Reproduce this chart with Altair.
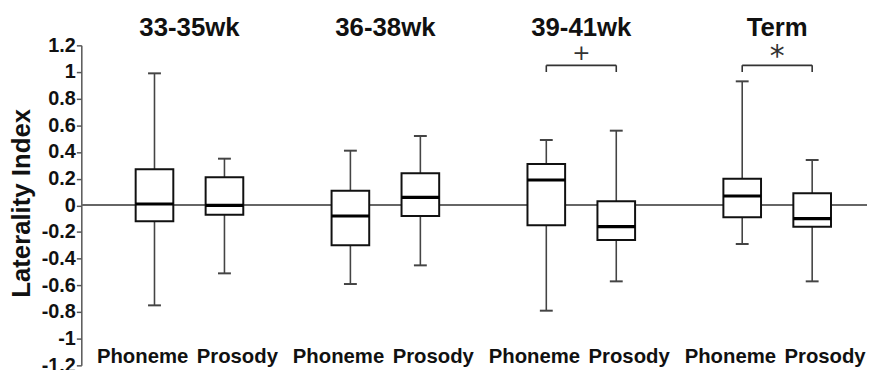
import altair as alt
import pandas as pd

groups = ["33-35wk", "36-38wk", "39-41wk", "Term"]
conditions = ["Phoneme", "Prosody"]
whisker_low = [-0.75, -0.51, -0.59, -0.45, -0.79, -0.57, -0.29, -0.57]
q1 = [-0.12, -0.07, -0.30, -0.08, -0.15, -0.26, -0.09, -0.16]
median = [0.01, 0.00, -0.08, 0.06, 0.19, -0.16, 0.07, -0.10]
q3 = [0.27, 0.21, 0.11, 0.24, 0.31, 0.03, 0.20, 0.09]
whisker_high = [0.99, 0.35, 0.41, 0.52, 0.49, 0.56, 0.93, 0.34]
sig_groups = ["39-41wk", "Term"]
sig_marks = ["+", "*"]
y_ticks = [-1.2, -1.0, -0.8, -0.6, -0.4, -0.2, 0.0, 0.2, 0.4, 0.6, 0.8, 1.0, 1.2]

GROUP_STEP = 2.8
rows = []
for gi, g in enumerate(groups):
    for ci, c in enumerate(conditions):
        k = gi * 2 + ci
        rows.append(dict(group=g, condition=c, pos=gi * GROUP_STEP + ci,
                         lo=whisker_low[k], q1=q1[k], med=median[k],
                         q3=q3[k], hi=whisker_high[k]))
df = pd.DataFrame(rows)

gdf = pd.DataFrame({"group": groups,
                    "center": [gi * GROUP_STEP + 0.5 for gi in range(len(groups))],
                    "ty": [1.33] * len(groups)})

sig_rows = []
for g, m in zip(sig_groups, sig_marks):
    gi = groups.index(g)
    sig_rows.append(dict(group=g, mark=m, left=gi * GROUP_STEP, right=gi * GROUP_STEP + 1,
                         center=gi * GROUP_STEP + 0.5, top=1.05, bottom=1.0,
                         ty=1.14 if m == "+" else 1.115))
sdf = pd.DataFrame(sig_rows)
legs = pd.concat([
    sdf[["left", "top", "bottom"]].rename(columns={"left": "x"}),
    sdf[["right", "top", "bottom"]].rename(columns={"right": "x"}),
])

FONT = "Liberation Sans"
W, H = 793, 323
xs = alt.Scale(domain=[-0.975, -0.975 + W / 71.52], nice=False, zero=False)
ys = alt.Scale(domain=[-1.2, 1.2], nice=False, zero=False)
yaxis = alt.Axis(values=y_ticks, format=".1~f",
                 labelExpr="replace(datum.label, '\u2212', '-')",
                 grid=False, domainColor="#555", domainWidth=1.5,
                 tickColor="#555", tickSize=5, tickWidth=1.5,
                 labelFont=FONT, labelFontWeight="bold", labelFontSize=20,
                 labelColor="#111", labelPadding=1, labelOverlap=False,
                 titleFont=FONT, titleFontWeight="bold", titleFontSize=26,
                 titleColor="#111", titleX=-60, titleY=159, titleAngle=270,
                 titleAlign="center", titleBaseline="middle")
TITLE = "Laterality Index"


def Y(field):
    return alt.Y(field, type="quantitative", scale=ys, axis=yaxis, title=TITLE)


def X(field):
    return alt.X(field, type="quantitative", scale=xs, axis=None)


zero = alt.Chart(df).mark_rule(color="#666", strokeWidth=1.5).encode(
    y=alt.YDatum(0, scale=ys, axis=yaxis, title=TITLE))

whisk = alt.Chart(df).mark_rule(color="#444", strokeWidth=1.6).encode(
    x=X("pos"), y=Y("lo"), y2="hi")

caps_hi = alt.Chart(df).mark_tick(orient="horizontal", size=13, thickness=2, color="#444",
                                  opacity=1).encode(x=X("pos"), y=Y("hi"))
caps_lo = alt.Chart(df).mark_tick(orient="horizontal", size=13, thickness=2, color="#444",
                                  opacity=1).encode(x=X("pos"), y=Y("lo"))

box = alt.Chart(df).mark_bar(size=38, fill="white", stroke="#111", strokeWidth=2).encode(
    x=X("pos"), y=Y("q1"), y2="q3")

med = alt.Chart(df).mark_tick(orient="horizontal", size=38, thickness=3.2, color="#000",
                              opacity=1).encode(x=X("pos"), y=Y("med"))

titles = alt.Chart(gdf).mark_text(font=FONT, fontWeight="bold", fontSize=26, color="#111",
                                  baseline="middle", align="center").encode(
    x=X("center"), y=Y("ty"), text="group")

lab_ph = alt.Chart(df[df.condition == "Phoneme"]).mark_text(
    font=FONT, fontWeight="bold", fontSize=20.5, color="#111", baseline="middle",
    align="center", dx=-12).encode(x=X("pos"), y=alt.YDatum(-1.14, scale=ys, axis=yaxis, title=TITLE),
                                   text="condition")
lab_pr = alt.Chart(df[df.condition == "Prosody"]).mark_text(
    font=FONT, fontWeight="bold", fontSize=20.5, color="#111", baseline="middle",
    align="center", dx=13).encode(x=X("pos"), y=alt.YDatum(-1.14, scale=ys, axis=yaxis, title=TITLE),
                                  text="condition")

bracket = alt.Chart(sdf).mark_rule(color="#333", strokeWidth=1.6).encode(
    x=X("left"), x2="right", y=Y("top"))
bracket_legs = alt.Chart(legs).mark_rule(color="#333", strokeWidth=1.6).encode(
    x=X("x"), y=Y("bottom"), y2="top")
sig_text = alt.Chart(sdf).mark_text(font="DejaVu Sans", color="#333",
                                    baseline="middle", align="center").encode(
    x=X("center"), y=Y("ty"), text="mark",
    size=alt.Size("mark:N", scale=alt.Scale(domain=sig_marks, range=[22, 30]), legend=None))

chart = alt.layer(zero, whisk, caps_hi, caps_lo, box, med, titles, lab_ph, lab_pr,
                  bracket, bracket_legs, sig_text).properties(
    width=W, height=H,
    autosize=alt.AutoSizeParams(type="none"),
    padding={"left": 74, "top": 36, "right": 0, "bottom": 3},
).configure_view(stroke=None)

chart.save("out.html", embed_options={"renderer": "svg", "actions": False})
